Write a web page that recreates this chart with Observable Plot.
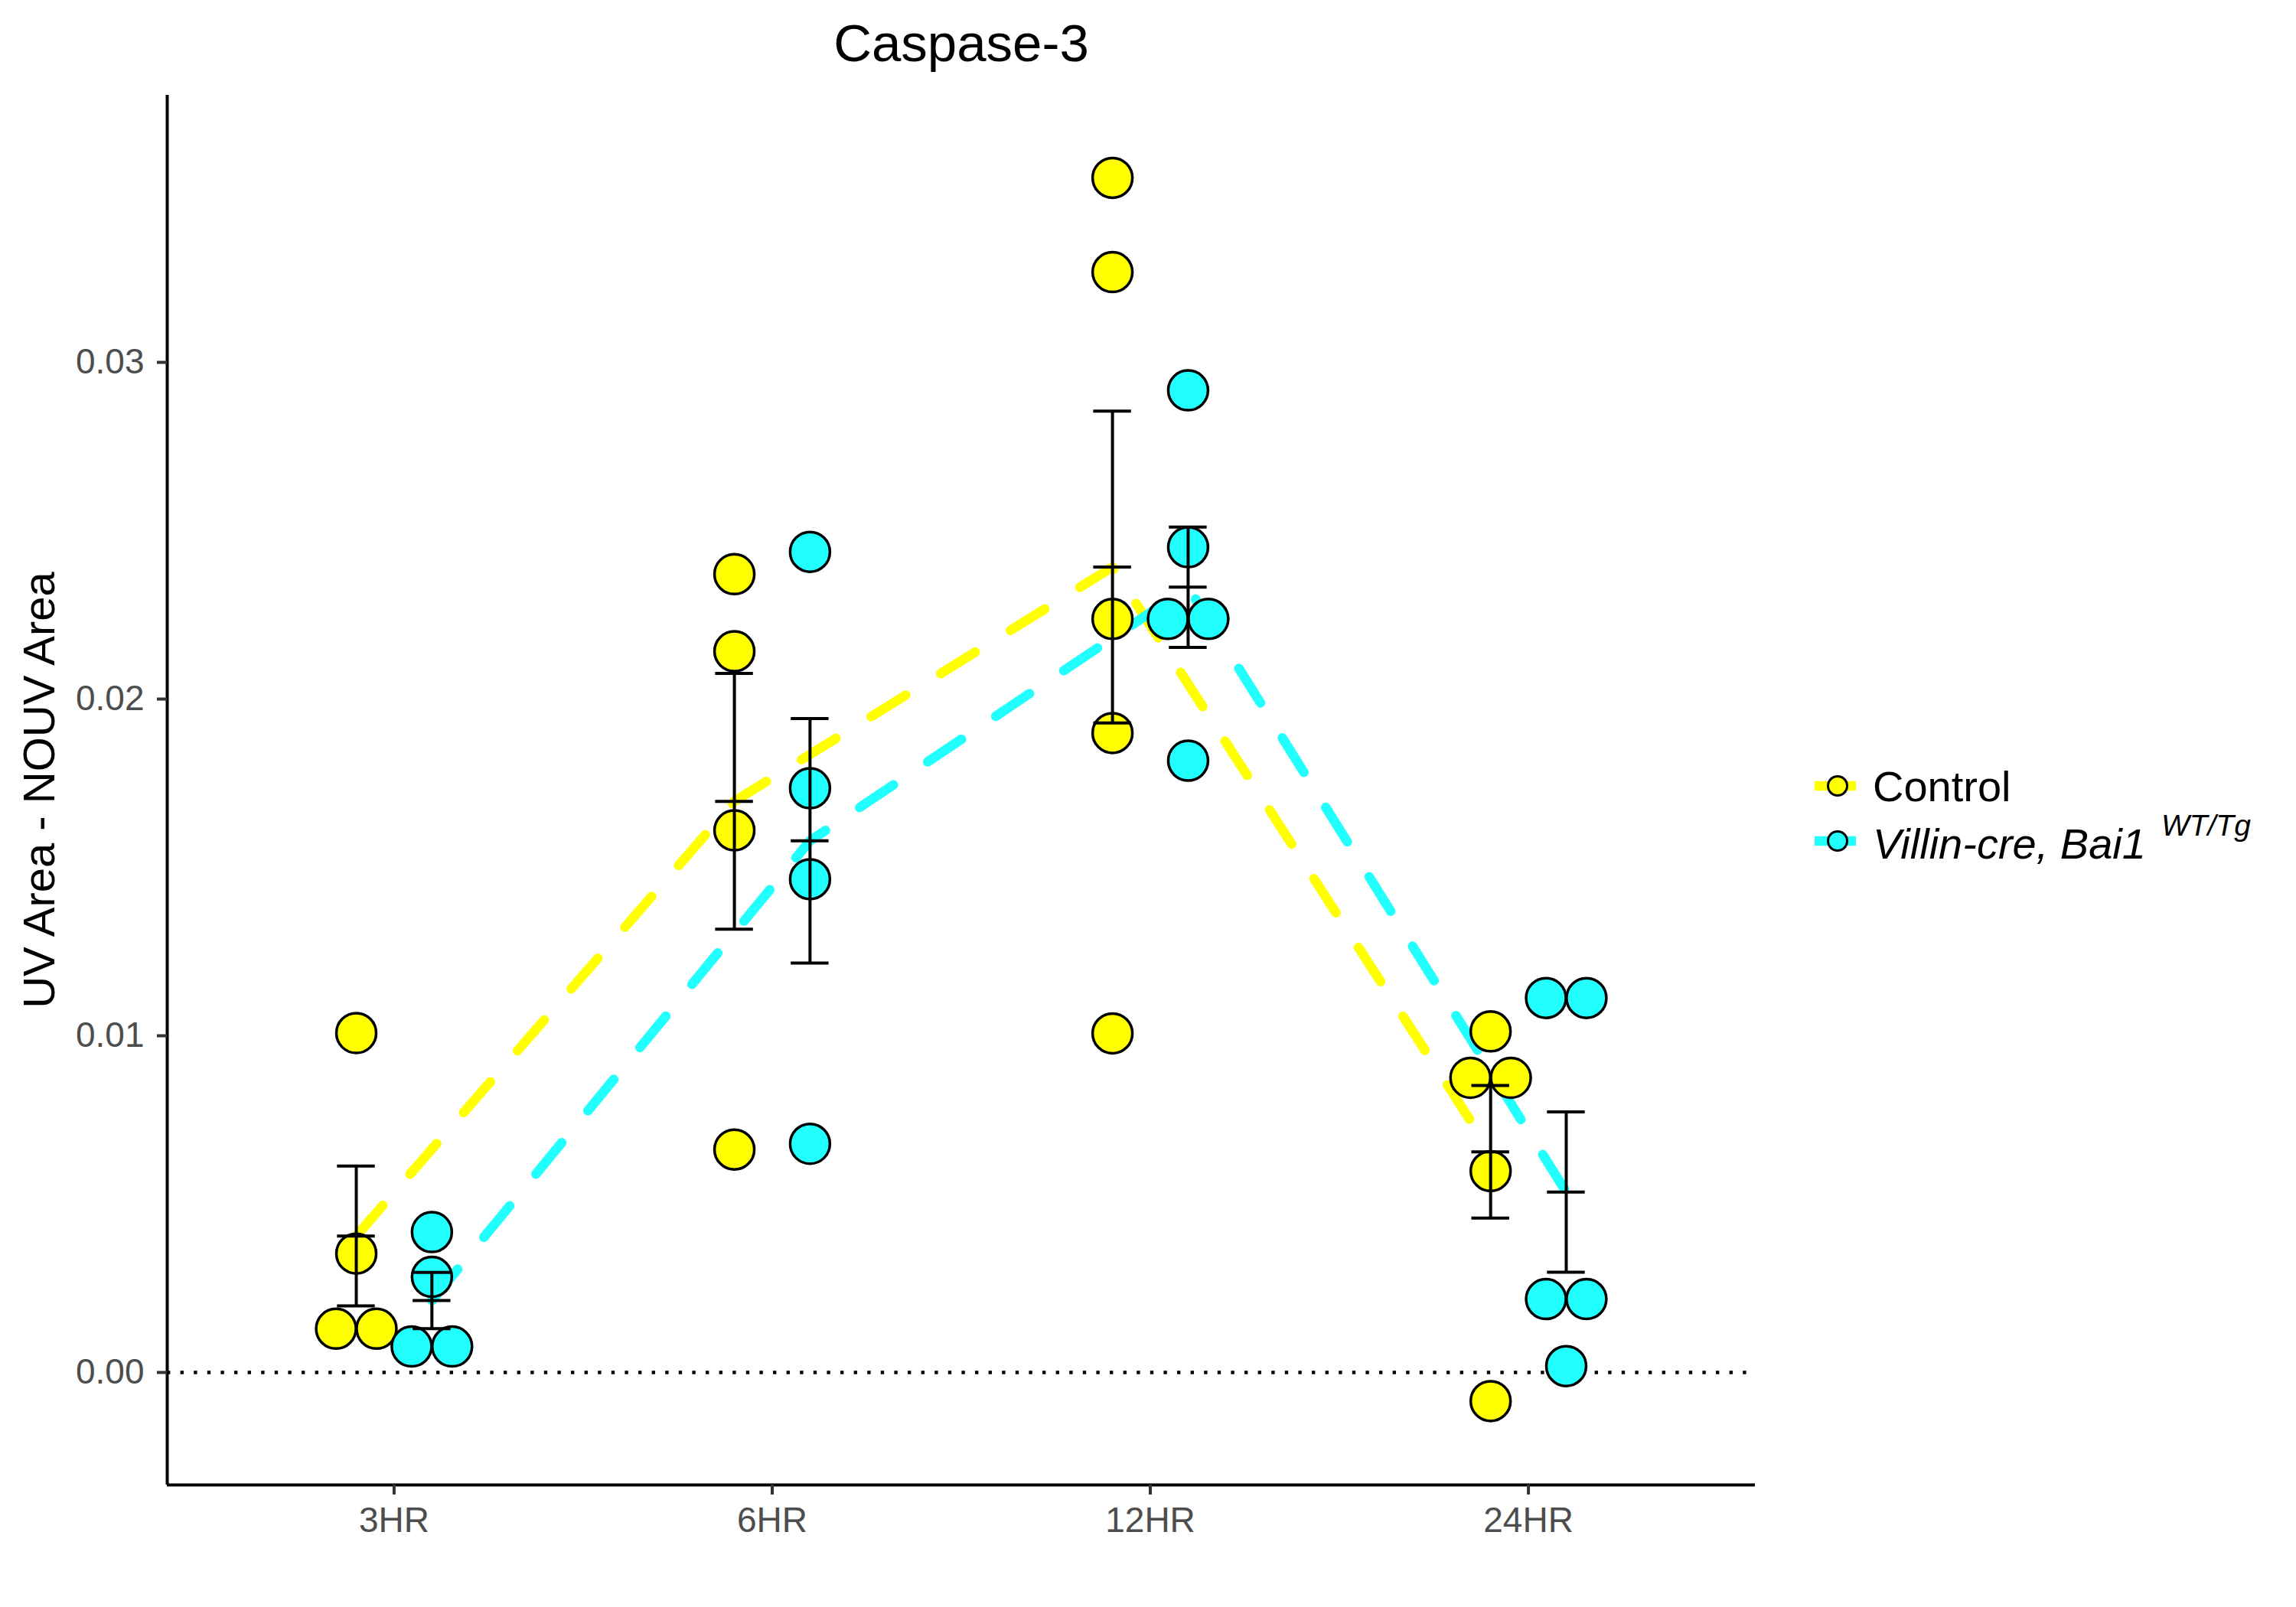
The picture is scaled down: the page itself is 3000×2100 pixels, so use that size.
<!DOCTYPE html>
<html><head><meta charset="utf-8">
<script src="https://cdn.jsdelivr.net/npm/d3@7"></script>
<script src="https://cdn.jsdelivr.net/npm/@observablehq/plot@0.6"></script>
<style>
html,body{margin:0;padding:0;background:#fff;}
#wrap{position:relative;width:3000px;height:2100px;font-family:"Liberation Sans",Arial,Helvetica,sans-serif;}
#wrap svg{display:block;}
#legend{position:absolute;left:0;top:0;pointer-events:none;}
</style></head><body><div id="wrap"></div>
<script>
// ---- data ----
const times = ["3HR", "6HR", "12HR", "24HR"];
const groups = ["Control", "Villin-cre, Bai1"];
const controlValues = [
  [0.01008, 0.00353, 0.0013, 0.0013],
  [0.02371, 0.02142, 0.0161, 0.00662],
  [0.03548, 0.03268, 0.02238, 0.01899, 0.01007],
  [0.01013, 0.00875, 0.00875, 0.00598, -0.00085]
];
const villinValues = [
  [0.00417, 0.00284, 0.00077, 0.00077],
  [0.02437, 0.01735, 0.01465, 0.00679],
  [0.02917, 0.02451, 0.02238, 0.02238, 0.01817],
  [0.01112, 0.01112, 0.00218, 0.00218, 0.00019]
];
const yTicks = [0, 0.01, 0.02, 0.03];
const titleText = "Caspase-3";
const yLabel = "UV Area - NOUV Area";
const colors = ["#FFFF00", "#22FFFF"];

// ---- derived ----
const DODGE = 0.1, SWARM = 0.107, CAP = 0.05;
const yDomain = [-0.003341, 0.037932];
const valuesByGroup = [controlValues, villinValues];
const points = [], stats = [];
groups.forEach((g, gi) => {
  const off = gi === 0 ? -DODGE : DODGE;
  times.forEach((t, ti) => {
    const vals = valuesByGroup[gi][ti];
    const counts = d3.rollup(vals, v => v.length, v => v);
    const seen = new Map();
    vals.forEach(v => {
      const m = counts.get(v), k = seen.get(v) || 0;
      seen.set(v, k + 1);
      points.push({group: g, time: t, value: v, x: ti + off + (k - (m - 1) / 2) * SWARM});
    });
    const mean = d3.mean(vals), se = d3.deviation(vals) / Math.sqrt(vals.length);
    stats.push({group: g, time: t, x: ti + off, mean, lo: mean - se, hi: mean + se});
  });
});

const font = '"Liberation Sans", Arial, Helvetica, sans-serif';
const capRule = (key) => Plot.ruleY(stats, {y: key, x1: d => d.x - CAP, x2: d => d.x + CAP, stroke: "black", strokeWidth: 4});

const plot = Plot.plot({
  width: 3000, height: 2100,
  marginLeft: 218, marginRight: 707, marginTop: 124, marginBottom: 160,
  style: {fontFamily: font, background: "white", overflow: "visible"},
  x: {type: "linear", domain: [-0.6, 3.6], axis: null},
  y: {domain: yDomain, axis: null},
  color: {domain: groups, range: colors},
  marks: [
    Plot.ruleY([0], {stroke: "black", strokeWidth: 4.4, strokeDasharray: "4.4,13.2"}),
    Plot.line(stats, {x: "x", y: "mean", z: "group", stroke: "group", strokeWidth: 12.5, strokeDasharray: "53,54"}),
    Plot.dot(points, {x: "x", y: "value", r: 26, fill: "group", stroke: "black", strokeWidth: 3.5}),
    Plot.ruleX(stats, {x: "x", y1: "lo", y2: "hi", stroke: "black", strokeWidth: 4}),
    capRule("lo"), capRule("mean"), capRule("hi"),
    Plot.ruleX([-0.6], {stroke: "black", strokeWidth: 4}),
    Plot.ruleY([yDomain[0]], {stroke: "black", strokeWidth: 4}),
    Plot.axisX({ticks: [0, 1, 2, 3], tickFormat: i => times[i], tickSize: 13, tickPadding: 16,
      fontSize: 46, stroke: "#333333", strokeWidth: 4, fill: "#4D4D4D", label: null}),
    Plot.axisY({ticks: yTicks, tickFormat: d3.format(".2f"), tickSize: 13, tickPadding: 17,
      fontSize: 46, stroke: "#333333", strokeWidth: 4, fill: "#4D4D4D", label: null}),
    Plot.text([yLabel], {text: d => d, frameAnchor: "left", textAnchor: "middle", rotate: -90, dx: -166, fontSize: 58, fill: "black"}),
    Plot.text([titleText], {text: d => d, frameAnchor: "top", dy: -94, fontSize: 69, fill: "black"})
  ]
});
const wrap = document.getElementById("wrap");
wrap.appendChild(plot);

// ---- legend (overlay) ----
const leg = d3.select(wrap).append("svg").attr("id", "legend")
  .attr("width", 3000).attr("height", 2100)
  .style("font-family", font);
const rows = [{cy: 1027, base: 1047}, {cy: 1099, base: 1122}];
groups.forEach((g, i) => {
  const r = rows[i];
  leg.append("line").attr("x1", 2371).attr("x2", 2425).attr("y1", r.cy).attr("y2", r.cy)
    .attr("stroke", colors[i]).attr("stroke-width", 12.5);
  leg.append("circle").attr("cx", 2401).attr("cy", r.cy).attr("r", 12.5)
    .attr("fill", colors[i]).attr("stroke", "black").attr("stroke-width", 3);
  const t = leg.append("text").attr("x", 2447).attr("y", r.base).attr("font-size", 56).attr("fill", "black");
  if (i === 0) {
    t.text(g);
  } else {
    t.attr("font-style", "italic");
    t.append("tspan").text(g);
    t.append("tspan").attr("dx", 20).attr("dy", -30).attr("font-size", 39).text("WT/Tg");
  }
});
</script></body></html>
